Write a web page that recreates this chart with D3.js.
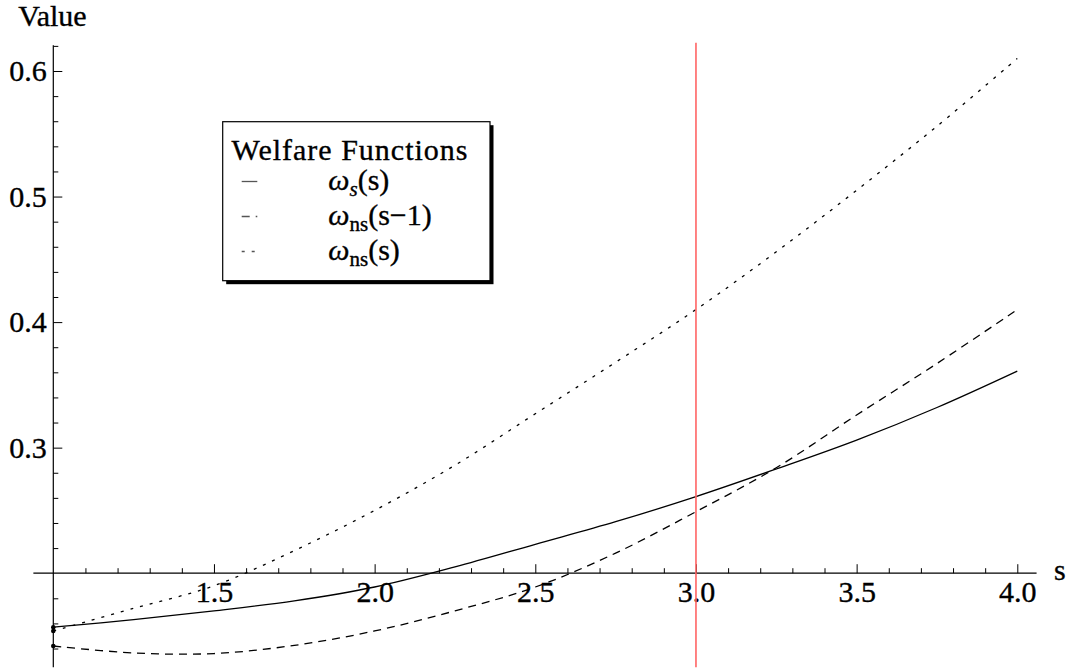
<!DOCTYPE html>
<html>
<head>
<meta charset="utf-8">
<script src="https://cdn.jsdelivr.net/npm/d3@7"></script>
<style>
  html, body { margin: 0; padding: 0; background: #fff; }
  svg { display: block; }
  svg text { font-family: "Liberation Serif", "Times New Roman", serif; fill: #000; stroke: #000; stroke-width: 0.35px; }
</style>
</head>
<body>
<svg id="chart" width="1066" height="671"></svg>
<script>
// ---- data ----
const sValues      = [1.0, 1.25, 1.5, 1.75, 2.0, 2.25, 2.5, 2.75, 3.0, 3.25, 3.5, 3.75, 4.0];
const omegaS       = [0.157, 0.163, 0.170, 0.178, 0.189, 0.205, 0.223, 0.241, 0.261, 0.283, 0.306, 0.332, 0.361];
const omegaNsPrev  = [0.142, 0.1365, 0.136, 0.1425, 0.154, 0.170, 0.189, 0.216, 0.249, 0.284, 0.326, 0.367, 0.410];
const omegaNs      = [0.154, 0.172, 0.190, 0.218, 0.250, 0.286, 0.327, 0.368, 0.410, 0.456, 0.505, 0.556, 0.610];
const markerS      = 3.0;

const xMajorTicks  = [1.5, 2.0, 2.5, 3.0, 3.5, 4.0];
const xTickLabels  = ["1.5", "2.0", "2.5", "3.0", "3.5", "4.0"];
const xMinorTicks  = [1.1,1.2,1.3,1.4,1.6,1.7,1.8,1.9,2.1,2.2,2.3,2.4,2.6,2.7,2.8,2.9,3.1,3.2,3.3,3.4,3.6,3.7,3.8,3.9];
const yMajorTicks  = [0.3, 0.4, 0.5, 0.6];
const yTickLabels  = ["0.3", "0.4", "0.5", "0.6"];
const yMinorTicks  = [0.14,0.16,0.18,0.22,0.24,0.26,0.28,0.32,0.34,0.36,0.38,0.42,0.44,0.46,0.48,0.52,0.54,0.56,0.58,0.62];

const xAxisExtent  = [0.938, 4.06];
const yAxisExtent  = [0.125, 0.6205];
const xAxisAt      = 0.2;
const yAxisAt      = 1.0;

const legendTitle  = "Welfare Functions";

// ---- scales ----
const svg = d3.select("#chart");
const x = d3.scaleLinear().domain([1, 4]).range([53.3, 1017.3]);
const y = d3.scaleLinear().domain([0.2, 0.6]).range([573.2, 71]);
const FS = 30;
const FONT = '"Liberation Serif", "Times New Roman", serif';

const x0 = x(yAxisAt), y0 = y(xAxisAt);

svg.append("line")
  .attr("x1", x(xAxisExtent[0])).attr("x2", x(xAxisExtent[1]))
  .attr("y1", y0).attr("y2", y0)
  .attr("stroke", "#000").attr("stroke-width", 1.2);
svg.append("line")
  .attr("x1", x0).attr("x2", x0)
  .attr("y1", y(yAxisExtent[0])).attr("y2", y(yAxisExtent[1]))
  .attr("stroke", "#000").attr("stroke-width", 1.2);

const gx = svg.append("g").attr("transform", `translate(0,${y0})`);
gx.call(d3.axisBottom(x).tickValues(xMajorTicks)
  .tickFormat((d, i) => xTickLabels[i]).tickSize(-9).tickPadding(7.5));
const gxm = svg.append("g").attr("transform", `translate(0,${y0})`);
gxm.call(d3.axisBottom(x).tickValues(xMinorTicks).tickFormat("").tickSize(-5));

const gy = svg.append("g").attr("transform", `translate(${x0},0)`);
gy.call(d3.axisLeft(y).tickValues(yMajorTicks)
  .tickFormat((d, i) => yTickLabels[i]).tickSize(-9).tickPadding(6.6));
const gym = svg.append("g").attr("transform", `translate(${x0},0)`);
gym.call(d3.axisLeft(y).tickValues(yMinorTicks).tickFormat("").tickSize(-5));

[gx, gxm, gy, gym].forEach(g => {
  g.attr("font-family", null).attr("font-size", null);
  g.select(".domain").remove();
  g.selectAll(".tick line").attr("stroke", "#000").attr("stroke-width", 1);
  g.selectAll("text").style("font-family", FONT).style("font-size", FS + "px");
});

svg.append("text").attr("x", 18.3).attr("y", 26).style("font-size", FS + "px").text("Value");
svg.append("text").attr("x", 1054).attr("y", 580).style("font-size", FS + "px").text("s");

// ---- curves ----
const line = d3.line().x((d, i) => x(sValues[i])).y(d => y(d)).curve(d3.curveCatmullRom.alpha(0.5));

svg.append("path").datum(omegaS).attr("d", line)
  .attr("fill", "none").attr("stroke", "#000").attr("stroke-width", 1.3);
svg.append("path").datum(omegaNsPrev).attr("d", line)
  .attr("fill", "none").attr("stroke", "#000").attr("stroke-width", 1.3)
  .attr("stroke-dasharray", "8,6");
svg.append("path").datum(omegaNs).attr("d", line)
  .attr("fill", "none").attr("stroke", "#000").attr("stroke-width", 1.3)
  .attr("stroke-dasharray", "3,7");

svg.selectAll("circle.start").data([omegaS[0], omegaNs[0], omegaNsPrev[0]]).enter()
  .append("circle").attr("class", "start")
  .attr("cx", x(sValues[0])).attr("cy", d => y(d)).attr("r", 2.3).attr("fill", "#000");

svg.append("line")
  .attr("x1", x(markerS)).attr("x2", x(markerS))
  .attr("y1", y(yAxisExtent[1]) - 2.5).attr("y2", y(yAxisExtent[0]))
  .attr("stroke", "#ff6464").attr("stroke-width", 1.6);

// ---- legend ----
const L = { x: 222.7, y: 121.7, w: 267.3, h: 159 };
const lg = svg.append("g");
lg.append("rect").attr("x", L.x + 3.5).attr("y", L.y + 3.5).attr("width", L.w).attr("height", L.h).attr("fill", "#000");
lg.append("rect").attr("x", L.x).attr("y", L.y).attr("width", L.w).attr("height", L.h)
  .attr("fill", "#fff").attr("stroke", "#000").attr("stroke-width", 1.2);
lg.append("text").attr("x", 350).attr("y", 160).attr("text-anchor", "middle")
  .style("font-size", "30px").style("letter-spacing", "1px").text(legendTitle);

const legendRows = [
  { sub: "s", subItalic: true, arg: "(s)", dash: null, base: 190 },
  { sub: "ns", subItalic: false, arg: "(s\u22121)", dash: "8,6", base: 225 },
  { sub: "ns", subItalic: false, arg: "(s)", dash: "3,7", base: 260 }
];
legendRows.forEach(r => {
  lg.append("line").attr("x1", 241.7).attr("x2", 257.3)
    .attr("y1", r.base - 8.5).attr("y2", r.base - 8.5)
    .attr("stroke", "#555").attr("stroke-width", 1.3)
    .attr("stroke-dasharray", r.dash);
  const t = lg.append("text").attr("x", 328.3).attr("y", r.base).style("font-size", FS + "px");
  t.append("tspan").style("font-style", "italic").text("\u03c9");
  t.append("tspan").style("font-size", (FS * 0.7) + "px").attr("dy", 6)
    .style("font-style", r.subItalic ? "italic" : "normal").text(r.sub);
  t.append("tspan").attr("dy", -6).text(r.arg);
});
</script>
</body>
</html>
